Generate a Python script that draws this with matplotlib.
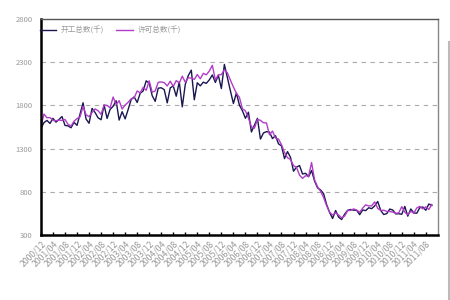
import matplotlib
matplotlib.use("Agg")
import matplotlib.pyplot as plt
from matplotlib.lines import Line2D
import numpy as np

plt.rcParams['font.family'] = ['Noto Sans CJK SC', 'DejaVu Sans']

start_year, start_month = 2000, 12

starts = [1532,
    1600, 1625, 1590, 1649, 1605, 1636, 1670, 1567, 1562, 1540, 1602, 1568,
    1698, 1829, 1642, 1592, 1764, 1717, 1655, 1633, 1804, 1648, 1753, 1788,
    1853, 1629, 1726, 1643, 1751, 1867, 1897, 1833, 1939, 1967, 2083, 2057,
    1911, 1846, 1998, 2003, 1981, 1828, 2002, 2024, 1905, 2072, 1782, 2042,
    2144, 2207, 1864, 2061, 2025, 2068, 2054, 2095, 2151, 2065, 2147, 1994,
    2273, 2119, 1969, 1821, 1942, 1802, 1737, 1650, 1720, 1491, 1570, 1649,
    1409, 1480, 1495, 1490, 1415, 1448, 1354, 1330, 1183, 1264, 1197, 1037,
    1084, 1103, 1005, 1013, 973, 1046, 923, 844, 820, 777, 652, 560,
    490, 582, 505, 478, 540, 585, 594, 586, 585, 534, 588, 581,
    614, 604, 636, 687, 583, 536, 546, 599, 588, 543, 545, 539,
    630, 517, 600, 554, 551, 615, 623, 585, 658, 640]

permits = [1557,
    1699, 1656, 1658, 1625, 1620, 1630, 1624, 1636, 1580, 1560, 1615, 1646,
    1665, 1787, 1691, 1669, 1716, 1758, 1738, 1695, 1803, 1799, 1771, 1896,
    1808, 1854, 1757, 1803, 1835, 1875, 1885, 1966, 1944, 2009, 1974, 2083,
    1952, 1966, 2066, 2070, 2062, 2024, 2079, 2019, 2086, 2058, 2137, 2068,
    2118, 2116, 2100, 2156, 2107, 2170, 2153, 2197, 2263, 2094, 2153, 2155,
    2211, 2176, 2092, 2013, 1938, 1893, 1760, 1735, 1653, 1551, 1535, 1637,
    1626, 1598, 1596, 1458, 1502, 1421, 1409, 1344, 1255, 1193, 1173, 1102,
    1081, 992, 954, 985, 978, 1138, 937, 857, 805, 733, 639, 563,
    530, 555, 530, 498, 518, 581, 584, 601, 587, 561, 610, 648,
    635, 637, 682, 608, 582, 586, 572, 571, 564, 550, 555, 627,
    563, 534, 574, 551, 612, 630, 601, 625, 594, 653]

labels_series = ['开工总数(千)', '许可总数(千)']
y_ticks = [300, 800, 1300, 1800, 2300, 2800]

n = len(starts)
x = np.arange(n)

def month_label(i):
    m = start_month - 1 + i
    y = start_year + m // 12
    mm = m % 12 + 1
    return f"{y}/{mm:02d}"

tick_pos = list(range(0, n, 4))
tick_labels = [month_label(i) for i in tick_pos]

fig = plt.figure(figsize=(4.5, 3), dpi=100)
ax = fig.add_axes([0.091, 0.217, 0.882, 0.72])

ax.plot(x, starts, color='#1a1650', lw=1.0, label=labels_series[0])
ax.plot(x, permits, color='#b03cc8', lw=1.0, label=labels_series[1])

ax.set_ylim(300, 2800)
ax.set_xlim(0, n + 1)
ax.set_yticks(y_ticks)
ax.set_yticklabels([str(v) for v in y_ticks], fontsize=5.5, color='#999999')
ax.tick_params(axis='y', length=0, pad=6)
for v in y_ticks[1:-1]:
    ax.axhline(v, color='#aaaaaa', lw=0.8, ls=(0, (4, 4)), zorder=0)

ax.set_xticks(tick_pos)
ax.set_xticklabels(tick_labels, rotation=45, ha='right', rotation_mode='anchor',
                   fontsize=6.3, color='#999999')
ax.tick_params(axis='x', direction='in', length=2.5, width=1, color='black', pad=3)

ax.spines['left'].set_linewidth(1.8)
ax.spines['left'].set_color('black')
ax.spines['bottom'].set_linewidth(1.8)
ax.spines['bottom'].set_color('black')
ax.spines['top'].set_linewidth(1.0)
ax.spines['top'].set_color('#555555')
ax.spines['right'].set_linewidth(1.0)
ax.spines['right'].set_color('#888888')

leg = ax.legend(loc='upper left', bbox_to_anchor=(-0.015, 0.985), ncol=2, frameon=False,
                fontsize=5.5, handlelength=2.2, columnspacing=1.5, handletextpad=0.6,
                borderaxespad=0.2)
for t in leg.get_texts():
    t.set_color('#999999')

fig.add_artist(Line2D([0.997, 0.997], [0.0, 0.86], color='#bbbbbb', lw=1.5))

fig.savefig('out.png', dpi=100)
